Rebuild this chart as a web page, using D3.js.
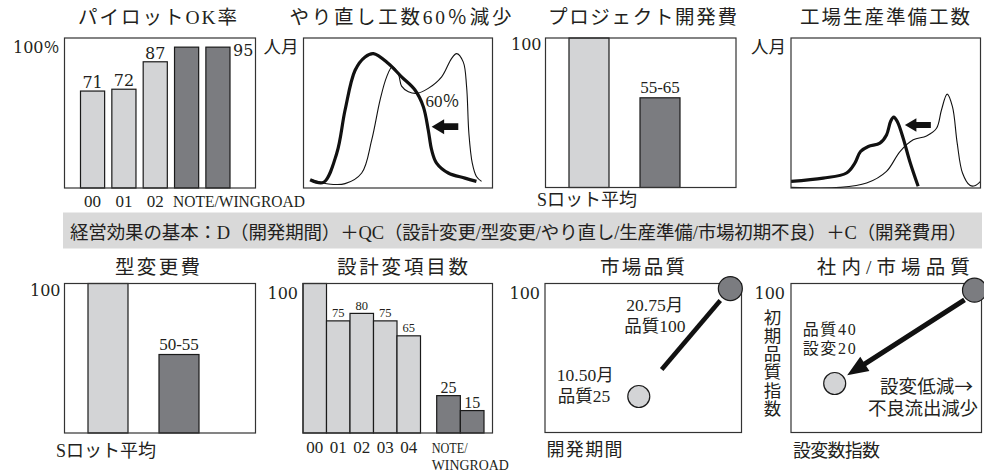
<!DOCTYPE html>
<html>
<head>
<meta charset="utf-8">
<script src="https://cdn.jsdelivr.net/npm/d3@7"></script>
<style>
  html, body { margin: 0; padding: 0; background: #fff; }
  svg { display: block; }
</style>
</head>
<body>
<svg id="chart" width="984" height="476"></svg>
<script>
// ---------------- data ----------------
// パイロットOK率 (%)
const pilotYears = ["00", "01", "02"];
const pilotCars = ["NOTE", "WINGROAD"];
const pilotOkRate = [71, 72, 87, 95, 95];

// やり直し工数: [時期, 人月] (relative units, 0-100)
const reworkCut = 60;
const reworkBefore = [[4.4,5.5],[13.2,2.7],[22.0,2.9],[30.8,10.0],[36.1,32.1],[40.5,58.6],[44.0,74.1],[47.0,80.8],[50.2,75.9],[51.9,67.9],[55.5,64.2],[59.9,63.1],[66.0,66.4],[73.1,74.1],[78.3,86.3],[81.0,89.6],[84.5,84.1],[86.3,67.5],[87.5,36.5],[89.3,16.6],[91.5,7.7],[94.2,4.4]];
const reworkAfter = [[3.5,5.5],[10.6,3.8],[17.6,23.2],[22.0,52.0],[27.3,78.5],[32.6,87.4],[37.0,89.6],[44.9,83.0],[51.9,74.1],[59.0,65.3],[63.4,54.2],[66.0,38.7],[67.8,25.4],[70.4,16.6],[76.6,10.0],[85.4,6.6],[91.5,4.4]];
const reworkShift = [[81.9,40.9],[67.8,40.9]];

// プロジェクト開発費 / 型変更費 (Sロット平均 = 100)
const costCats = ["Sロット平均", "NOTE/WINGROAD"];
const projectCostRange = [55, 65];
const moldCostRange = [50, 55];

// 工場生産準備工数: [時期, 人月] (relative units, 0-100)
const prepBefore = [[0,0.4],[25.8,0.4],[39.9,3.3],[50.4,11.1],[57.5,24.3],[64.5,32.1],[71.5,34.7],[76.8,39.8],[79.4,52.0],[82.4,62.6],[85.2,54.2],[87.7,29.9],[90.5,10.0],[94.4,1.8],[97.0,1.5],[100,4.4]];
const prepAfter = [[0,4.4],[17.0,6.6],[29.3,10.0],[33.7,16.6],[36.7,24.3],[40.8,27.7],[46.9,29.9],[50.4,35.4],[52.6,44.5],[54.2,47.3],[56.2,44.0],[59.2,33.2],[62.7,17.7],[67.1,1.1]];
const prepShift = [[73.8,42.0],[60.1,42.0]];

// 設計変項目数 (00 = 100)
const changeYears = ["00", "01", "02", "03", "04"];
const changeOld = [100, 75, 80, 75, 65];
const changeCars = ["NOTE", "WINGROAD"];
const changeNew = [25, 15];

// 市場品質: 開発期間 (月) vs 品質
const marketMonths = [20.75, 10.50];
const marketQuality = [100, 25];

// 社内/市場品質: 設変数指数 vs 初期品質指数
const changeIndex = [100, 20];
const qualityIndex = [100, 40];

const bannerText = "経営効果の基本：D（開発期間）＋QC（設計変更/型変更/やり直し/生産準備/市場初期不良）＋C（開発費用）";

// ---------------- drawing ----------------
const svg = d3.select("#chart");
const SERIF = "'Liberation Serif','Tinos','Times New Roman','DejaVu Serif Condensed','Noto Sans CJK JP',serif";
const NUM = "'DejaVu Serif','Noto Sans CJK JP',serif";
const CJK = "'Noto Sans CJK JP',sans-serif";
const INK = "#231f20";
const LIGHT = "#d3d4d6", DARK = "#7b7c80", BANNER = "#d9d9d9";
const FRAME = "#333", BAR_EDGE = "#1a1a1a";

const boxes = {
  pilot:   { x0: 64.5,  x1: 255.5, y0: 38,    y1: 188 },
  rework:  { x0: 303.5, x1: 492.5, y0: 38,    y1: 188 },
  cost:    { x0: 545.5, x1: 736,   y0: 38,    y1: 187.5 },
  prep:    { x0: 791,   x1: 980.5, y0: 38,    y1: 188 },
  mold:    { x0: 64.5,  x1: 255.5, y0: 283.5, y1: 433 },
  change:  { x0: 303,   x1: 492.5, y0: 283.5, y1: 433 },
  market:  { x0: 545,   x1: 741.5, y0: 283.5, y1: 432.5 },
  inhouse: { x0: 791,   x1: 981.5, y0: 283.5, y1: 432.5 }
};

function label(g, str, x, y, o = {}) {
  const t = g.append("text")
    .attr("x", x).attr("y", y)
    .attr("font-family", o.family || SERIF)
    .attr("font-size", o.size || 17)
    .attr("text-anchor", o.anchor || "start")
    .attr("fill", INK)
    .text(str);
  if (o.len) t.attr("textLength", o.len).attr("lengthAdjust", o.adjust || "spacing");
  return t;
}

function frame(g, b) {
  g.append("rect")
    .attr("x", b.x0).attr("y", b.y0)
    .attr("width", b.x1 - b.x0).attr("height", b.y1 - b.y0)
    .attr("fill", "none").attr("stroke", FRAME).attr("stroke-width", 1.2);
}

function clipTo(id, b) {
  svg.append("clipPath").attr("id", id).append("rect")
    .attr("x", b.x0).attr("y", b.y0).attr("width", b.x1 - b.x0).attr("height", b.y1 - b.y0);
  return `url(#${id})`;
}

// block arrow from tail to tip
function blockArrow(g, tail, tip, headLen, headHalf, shaftHalf) {
  const dx = tail[0] - tip[0], dy = tail[1] - tip[1];
  const L = Math.hypot(dx, dy), ux = dx / L, uy = dy / L, nx = -uy, ny = ux;
  const bx = tip[0] + ux * headLen, by = tip[1] + uy * headLen;
  const pts = [
    [tip[0], tip[1]],
    [bx + nx * headHalf, by + ny * headHalf],
    [bx + nx * shaftHalf, by + ny * shaftHalf],
    [tail[0] + nx * shaftHalf, tail[1] + ny * shaftHalf],
    [tail[0] - nx * shaftHalf, tail[1] - ny * shaftHalf],
    [bx - nx * shaftHalf, by - ny * shaftHalf],
    [bx - nx * headHalf, by - ny * headHalf]
  ];
  g.append("path").attr("d", d3.line()(pts) + "Z").attr("fill", "#111");
}

const mean = a => d3.mean(a);

// ---- titles ----
const titles = [
  ["パイロットOK率", 157.5, 24, 159],
  [`やり直し工数${reworkCut}％減少`, 400.5, 24, 222],
  ["プロジェクト開発費", 642.5, 24, 189],
  ["工場生産準備工数", 885, 24, 170],
  ["型変更費", 157.5, 273.5, 85],
  ["設計変項目数", 402.5, 273.5, 131],
  ["市場品質", 642.5, 273.5, 85],
  ["社内/市場品質", 893.3, 273.5, 153]
];
const tg = svg.append("g");
titles.forEach(([s, cx, y, w]) => label(tg, s, cx, y, { size: 19.5, anchor: "middle", len: w }));

// ---- パイロットOK率 ----
{
  const b = boxes.pilot, g = svg.append("g");
  const cats = pilotYears.concat(pilotCars);
  const x = d3.scaleBand().domain(cats).range([b.x0 + 16, b.x0 + 165.5]).paddingInner(0.23);
  const y = d3.scaleLinear().domain([18, 100]).range([b.y1, b.y0]);
  const bw = x.bandwidth();
  g.selectAll("rect.bar").data(cats).join("rect").attr("class", "bar")
    .attr("x", d => x(d)).attr("width", bw)
    .attr("y", (d, i) => y(pilotOkRate[i])).attr("height", (d, i) => b.y1 - y(pilotOkRate[i]))
    .attr("fill", d => pilotCars.includes(d) ? DARK : LIGHT)
    .attr("stroke", BAR_EDGE).attr("stroke-width", 1.2);
  frame(g, b);
  pilotYears.forEach((d, i) => {
    label(g, pilotOkRate[i], x(d) + bw / 2, y(pilotOkRate[i]) - 3, { family: NUM, size: 16, anchor: "middle" });
    label(g, d, x(d) + bw / 2, 206.5, { size: 17, anchor: "middle" });
  });
  const lastCar = pilotCars[pilotCars.length - 1];
  const carVal = pilotOkRate[cats.indexOf(lastCar)];
  label(g, carVal, x(lastCar) + bw + 3, y(carVal) + 8.5, { family: NUM, size: 16 });
  label(g, pilotCars.join("/"), x(pilotCars[0]) - 1.5, 206.5, { size: 16.5, len: 132, adjust: "spacingAndGlyphs" });
  label(g, "100％", b.x0 - 5, 53, { family: NUM, size: 16, anchor: "end" });
}

// ---- curve panels ----
function curvePanel(b, id, before, after, shift, arrowDims) {
  const g = svg.append("g");
  const x = d3.scaleLinear().domain([0, 100]).range([b.x0, b.x1]);
  const y = d3.scaleLinear().domain([0, 100]).range([b.y1, b.y0]);
  const line = d3.line().x(d => x(d[0])).y(d => y(d[1])).curve(d3.curveCatmullRom.alpha(0.5));
  const cg = g.append("g").attr("clip-path", clipTo(id, b));
  cg.append("path").attr("d", line(before)).attr("fill", "none").attr("stroke", "#111").attr("stroke-width", 1.1);
  cg.append("path").attr("d", line(after)).attr("fill", "none").attr("stroke", "#111").attr("stroke-width", 3.2);
  blockArrow(g, [x(shift[0][0]), y(shift[0][1])], [x(shift[1][0]), y(shift[1][1])], ...arrowDims);
  frame(g, b);
  label(g, "人月", b.x0 - 5, 53, { size: 17.5, anchor: "end" });
  return { g, x, y };
}
{
  const p = curvePanel(boxes.rework, "clipRework", reworkBefore, reworkAfter, reworkShift, [12.5, 7.5, 3.3]);
  label(p.g, `${reworkCut}％`, p.x(64.6), p.y(54), { size: 17 });
}
curvePanel(boxes.prep, "clipPrep", prepBefore, prepAfter, prepShift, [11.5, 6.8, 3]);

// ---- 開発費 / 型変更費 ----
function costPanel(b, range, catBaseline) {
  const g = svg.append("g");
  const vals = [100, mean(range)];
  const x = d3.scaleBand().domain(costCats).range([b.x0 + 23.5, b.x0 + 134.5]).paddingInner(31 / 71);
  const y = d3.scaleLinear().domain([0, 100]).range([b.y1, b.y0]);
  const bw = x.bandwidth();
  g.selectAll("rect.bar").data(costCats).join("rect").attr("class", "bar")
    .attr("x", d => x(d)).attr("width", bw)
    .attr("y", (d, i) => y(vals[i])).attr("height", (d, i) => b.y1 - y(vals[i]))
    .attr("fill", (d, i) => i === 0 ? LIGHT : DARK)
    .attr("stroke", BAR_EDGE).attr("stroke-width", 1.2);
  frame(g, b);
  label(g, `${range[0]}-${range[1]}`, x(costCats[1]) + bw / 2, y(vals[1]) - 5, { size: 17, anchor: "middle" });
  label(g, "100", b.x0 - 4, b.y0 + 12, { family: NUM, size: 16, anchor: "end" });
  label(g, costCats[0], x(costCats[0]) + bw / 2 - 2, catBaseline, { size: 18, anchor: "middle" });
}
costPanel(boxes.cost, projectCostRange, 206);
costPanel(boxes.mold, moldCostRange, 457);

// ---- banner ----
{
  const g = svg.append("g");
  g.append("rect").attr("x", 63).attr("y", 212.5).attr("width", 919).attr("height", 36).attr("fill", BANNER);
  label(g, bannerText, 70, 238.5, { size: 18.5, len: 897 });
}

// ---- 設計変項目数 ----
{
  const b = boxes.change, g = svg.append("g");
  const xo = d3.scaleBand().domain(changeYears).range([b.x0, b.x0 + 117.5]);
  const xn = d3.scaleBand().domain(changeCars).range([b.x0 + 133.7, b.x0 + 181]);
  const y = d3.scaleLinear().domain([0, 100]).range([b.y1, b.y0]);
  g.selectAll("rect.old").data(changeYears).join("rect").attr("class", "old")
    .attr("x", d => xo(d)).attr("width", xo.bandwidth())
    .attr("y", (d, i) => y(changeOld[i])).attr("height", (d, i) => b.y1 - y(changeOld[i]))
    .attr("fill", LIGHT).attr("stroke", BAR_EDGE).attr("stroke-width", 1.2);
  g.selectAll("rect.new").data(changeCars).join("rect").attr("class", "new")
    .attr("x", d => xn(d)).attr("width", xn.bandwidth())
    .attr("y", (d, i) => y(changeNew[i])).attr("height", (d, i) => b.y1 - y(changeNew[i]))
    .attr("fill", DARK).attr("stroke", BAR_EDGE).attr("stroke-width", 1.2);
  frame(g, b);
  changeYears.forEach((d, i) => {
    const cx = xo(d) + xo.bandwidth() / 2;
    if (changeOld[i] < 100) label(g, changeOld[i], cx, y(changeOld[i]) - 3.5, { size: 12.5, anchor: "middle" });
    label(g, d, cx, 453, { size: 17, anchor: "middle" });
  });
  changeCars.forEach((d, i) => {
    label(g, changeNew[i], xn(d) + xn.bandwidth() / 2, y(changeNew[i]) - 3, { size: 16, anchor: "middle" });
  });
  const nx = xn(changeCars[0]) - 5;
  label(g, changeCars[0] + "/", nx, 452.5, { size: 15, len: 36, adjust: "spacingAndGlyphs" });
  label(g, changeCars[1], nx, 470, { size: 15, len: 77, adjust: "spacingAndGlyphs" });
  label(g, "100", b.x0 - 5, 298.5, { family: NUM, size: 16, anchor: "end" });
}

// ---- 市場品質 ----
{
  const b = boxes.market, g = svg.append("g");
  const x = d3.scaleLinear().domain([0, 22]).range([b.x0, b.x1]);
  const y = d3.scaleLinear().domain([0, 103.5]).range([b.y1, b.y0]);
  const oldP = [x(marketMonths[0]), y(marketQuality[0])];
  const newP = [x(marketMonths[1]), y(marketQuality[1])];
  frame(g, b);
  const at = t => [newP[0] + (oldP[0] - newP[0]) * t, newP[1] + (oldP[1] - newP[1]) * t];
  const s = at(0.25), e = at(0.89);
  g.append("line").attr("x1", s[0]).attr("y1", s[1]).attr("x2", e[0]).attr("y2", e[1])
    .attr("stroke", "#111").attr("stroke-width", 4.6);
  g.append("circle").attr("cx", oldP[0]).attr("cy", oldP[1]).attr("r", 12)
    .attr("fill", DARK).attr("stroke", BAR_EDGE).attr("stroke-width", 1.2);
  g.append("circle").attr("cx", newP[0]).attr("cy", newP[1]).attr("r", 11)
    .attr("fill", LIGHT).attr("stroke", BAR_EDGE).attr("stroke-width", 1.2);
  label(g, `${marketMonths[0].toFixed(2)}月`, oldP[0] - 104, oldP[1] + 22, { size: 17.5 });
  label(g, `品質${marketQuality[0]}`, oldP[0] - 106, oldP[1] + 43, { size: 17.5 });
  label(g, `${marketMonths[1].toFixed(2)}月`, newP[0] - 82, newP[1] - 16, { size: 17.5 });
  label(g, `品質${marketQuality[1]}`, newP[0] - 81, newP[1] + 5, { size: 17.5 });
  label(g, "100", b.x0 - 5, 298.5, { family: NUM, size: 16, anchor: "end" });
  label(g, "開発期間", b.x0 + 1.5, 456, { size: 18, len: 76 });
}

// ---- 社内/市場品質 ----
{
  const b = boxes.inhouse, g = svg.append("g");
  const x = d3.scaleLinear().domain([-5, 104]).range([b.x0, b.x1]);
  const y = d3.scaleLinear().domain([8.5, 104.3]).range([b.y1, b.y0]);
  const oldP = [x(changeIndex[0]), y(qualityIndex[0])];
  const newP = [x(changeIndex[1]), y(qualityIndex[1])];
  frame(g, b);
  const dx = newP[0] - oldP[0], dy = newP[1] - oldP[1], L = Math.hypot(dx, dy);
  const ux = dx / L, uy = dy / L;
  const start = [oldP[0] + ux * 12, oldP[1] + uy * 12 + 3];
  const tip = [newP[0] - ux * 15, newP[1] - uy * 15];
  blockArrow(g, start, tip, 21, 8.5, 2.5);
  g.append("circle").attr("cx", oldP[0]).attr("cy", oldP[1]).attr("r", 12)
    .attr("fill", DARK).attr("stroke", BAR_EDGE).attr("stroke-width", 1.2);
  g.append("circle").attr("cx", newP[0]).attr("cy", newP[1]).attr("r", 11)
    .attr("fill", LIGHT).attr("stroke", BAR_EDGE).attr("stroke-width", 1.2);
  label(g, `品質${qualityIndex[1]}`, newP[0] - 32, newP[1] - 49, { size: 16, len: 53 });
  label(g, `設変${changeIndex[1]}`, newP[0] - 32, newP[1] - 29.5, { size: 16, len: 53 });
  const lead = label(g, "設変低減", b.x1 - 8.5, 393, { size: 18.5, anchor: "end", len: 93 });
  lead.append("tspan").attr("font-family", CJK).text("→");
  label(g, "不良流出減少", b.x1 - 3.5, 415, { size: 18.5, anchor: "end", len: 110 });
  label(g, "100", b.x0 - 6, 298.5, { family: NUM, size: 16, anchor: "end" });
  const vt = g.append("text").attr("font-family", SERIF).attr("font-size", 17.5)
    .attr("text-anchor", "middle").attr("fill", INK);
  Array.from("初期品質指数").forEach((ch, i) => {
    vt.append("tspan").attr("x", 772.5).attr("y", 323.5 + i * 18.3).text(ch);
  });
  label(g, "設変数指数", b.x0 + 2, 457, { size: 18, len: 87 });
}
</script>
</body>
</html>
